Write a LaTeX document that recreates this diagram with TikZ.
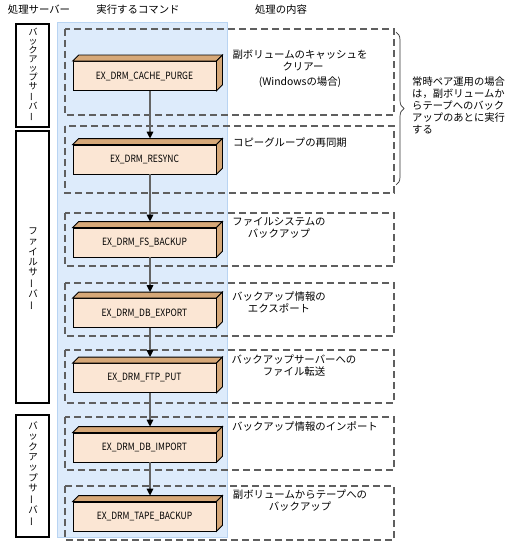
\documentclass[tikz,border=0pt]{standalone}
\usepackage{fontspec}
\setmainfont{Noto Sans CJK JP}
\usetikzlibrary{calc,arrows.meta,decorations.pathreplacing}
\definecolor{bluebg}{RGB}{221,235,251}
\definecolor{blueedge}{RGB}{185,212,242}
\definecolor{peach}{RGB}{251,230,212}
\definecolor{tanface}{RGB}{214,168,120}
\definecolor{dashgray}{RGB}{95,95,95}
\definecolor{arrowgray}{RGB}{100,100,100}
\newcommand\vbar{\rotatebox[origin=c]{90}{ー}}
\newcommand\cmdbox[3]{%
  \node[cmd] (#1) at (144.5,#2) {\scalebox{0.85}[1]{#3}};
  \draw[face] (#1.north west) -- ++(6,-6) -- ($(#1.north east)+(6,-6)$) -- (#1.north east) -- cycle;
  \draw[face] (#1.north east) -- ++(6,-6) -- ($(#1.south east)+(6,-6)$) -- (#1.south east) -- cycle;}
\begin{document}
\begin{tikzpicture}[x=1pt,y=-1pt,
  server/.style={draw=black,line width=1.4pt},
  bgbox/.style={fill=bluebg,draw=blueedge,line width=0.8pt},
  dashbox/.style={draw=dashgray,line width=1.1pt,dash pattern=on 7pt off 4pt},
  cmd/.style={draw=black,line width=0.8pt,fill=peach,minimum width=143pt,minimum height=29pt,inner sep=0pt,font=\fontsize{10}{12}\selectfont},
  face/.style={draw=black,line width=0.8pt,fill=tanface},
  desc/.style={align=center,font=\fontsize{10.4}{12}\selectfont,inner sep=0pt},
  head/.style={font=\fontsize{10.4}{12}\selectfont,inner sep=0pt},
  flow/.style={draw=arrowgray,line width=1.5pt,-{Triangle[length=7pt,width=6.5pt,black]}},
  bracestyle/.style={draw=black!80,line width=0.7pt,decorate,decoration={brace,amplitude=8pt}},
]
\useasboundingbox (0,0) rectangle (517,543);
% headers
\node[head] (h1) at (39,10) {処理サーバー};
\node[head] (h2) at (138,10) {実行するコマンド};
\node[head] (h3) at (281,10) {処理の内容};
% server boxes
\draw[server] (16,24) rectangle (49,127);
\draw[server] (16,131) rectangle (49,403);
\draw[server] (16,415) rectangle (49,537);
\node[align=center,inner sep=0pt,font=\fontsize{9}{9}\selectfont] (s1) at (33,75) {バ\\ッ\\ク\\ア\\ッ\\プ\\サ\\\vbar\\バ\\\vbar};
\node[align=center,inner sep=0pt,font=\fontsize{9.5}{10.25}\selectfont] (s2) at (33,269) {フ\\ァ\\イ\\ル\\サ\\\vbar\\バ\\\vbar};
\node[align=center,inner sep=0pt,font=\fontsize{9.5}{10.3}\selectfont] (s3) at (33,474) {バ\\ッ\\ク\\ア\\ッ\\プ\\サ\\\vbar\\バ\\\vbar};
% blue background
\draw[bgbox] (57,22) rectangle (227,537);
% dashed boxes
\draw[dashbox] (65,29) rectangle (394,115);
\draw[dashbox] (65,126) rectangle (394,193);
\draw[dashbox] (65,213) rectangle (394,266);
\draw[dashbox] (65,283) rectangle (394,336);
\draw[dashbox] (65,350) rectangle (394,403);
\draw[dashbox] (65,417) rectangle (394,470);
\draw[dashbox] (65,486) rectangle (394,540);
% command boxes
\cmdbox{c1}{76}{EX\_DRM\_CACHE\_PURGE}
\cmdbox{c2}{159.5}{EX\_DRM\_RESYNC}
\cmdbox{c3}{242.5}{EX\_DRM\_FS\_BACKUP}
\cmdbox{c4}{313}{EX\_DRM\_DB\_EXPORT}
\cmdbox{c5}{378}{EX\_DRM\_FTP\_PUT}
\cmdbox{c6}{447.5}{EX\_DRM\_DB\_IMPORT}
\cmdbox{c7}{516.5}{EX\_DRM\_TAPE\_BACKUP}
% arrows
\draw[flow] ($(c1.south)+(5.5,0)$) -- ($(c2.north)+(5.5,-6)$);
\draw[flow] ($(c2.south)+(5.5,0)$) -- ($(c3.north)+(5.5,-6)$);
\draw[flow] ($(c3.south)+(5.5,0)$) -- ($(c4.north)+(5.5,-6)$);
\draw[flow] ($(c4.south)+(5.5,0)$) -- ($(c5.north)+(5.5,-6)$);
\draw[flow] ($(c5.south)+(5.5,0)$) -- ($(c6.north)+(5.5,-6)$);
\draw[flow] ($(c6.south)+(5.5,0)$) -- ($(c7.north)+(5.5,-6)$);
% descriptions
\node[desc] (t1a) at (300,55) {副ボリュームのキャッシュを};
\node[desc] (t1b) at (303,66.5) {クリアー};
\node[desc] (t1c) at (300,82) {(Windowsの場合)};
\node[desc] (t2) at (290,143) {コピーグループの再同期};
\node[desc] (t3) at (279,227.5) {ファイルシステムの\\バックアップ};
\node[desc] (t4) at (279,302) {バックアップ情報の\\エクスポート};
\node[desc] (t5) at (294,365.5) {バックアップサーバーへの\\ファイル転送};
\node[desc] (t6) at (305,427) {バックアップ情報のインポート};
\node[desc] (t7) at (300,500.5) {副ボリュームからテープへの\\バックアップ};
% brace and note
\coordinate (b1) at (396,32);
\coordinate (b2) at (396,185);
\draw[bracestyle] (b1) -- (b2);
\node[anchor=west,align=left,inner sep=0pt,font=\fontsize{10.3}{11.8}\selectfont] (note) at (412,105.5) {常時ペア運用の場合\\は，副ボリュームか\\らテープへのバック\\アップのあとに実行\\する};
\end{tikzpicture}
\end{document}
